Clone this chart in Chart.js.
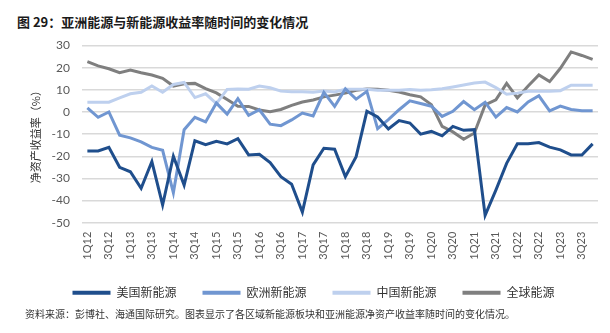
<!DOCTYPE html>
<html>
<head>
<meta charset="utf-8">
<script src="https://cdn.jsdelivr.net/npm/chart.js@4.4.0/dist/chart.umd.min.js"></script>
<style>
  body { margin: 0; width: 610px; height: 333px; background: #fff; position: relative; overflow: hidden; }
  #title { position: absolute; left: 17px; top: 12px; font: bold 13px/19px "Noto Sans CJK SC", sans-serif; color: #1a1a1a; }
  #source { position: absolute; left: 25px; top: 307px; font: 10px/14px "Noto Sans CJK SC", sans-serif; color: #333; }
  #chart { position: absolute; left: 0; top: 0; }
</style>
</head>
<body>
<div id="title">图 29：亚洲能源与新能源收益率随时间的变化情况</div>
<canvas id="chart" width="610" height="333"></canvas>
<div id="source">资料来源：彭博社、海通国际研究。图表显示了各区域新能源板块和亚洲能源净资产收益率随时间的变化情况。</div>
<script>
// quarters 1Q12 .. 4Q23
const quarters = [];
for (let y = 12; y <= 23; y++) {
    for (let q = 1; q <= 4; q++) quarters.push(q + 'Q' + y);
}

const usNewEnergy = [
    -17.6, -17.6, -16, -25, -27, -34.5, -22.4, -42, -20, -33, -13, -14.8,
    -13.3, -14.4, -12.1, -19.4, -19.1, -22.9, -29.2, -32.6, -45.2, -23.9, -16.4, -16.8,
    -29.2, -20.2, 0.3, -2.3, -7.7, -3.9, -5, -10, -8.8, -10.8, -6.5, -8.3,
    -8, -46.7, -35.3, -23.2, -14.4, -14.4, -13.8, -15.9, -17.1, -19.4, -19.4, -14.4
];
const euNewEnergy = [
    1.8, -2.4, 0, -10.5, -11.7, -13.5, -16, -17.3, -36.5, -8, -2.4, -4.5,
    4, -1, 6, -1.5, 1, -5.5, -6.2, -3.6, -0.5, -1.8, 8.8, 2.5,
    10.4, 5.8, 9.3, -7.5, -3.5, 1, 5, 3.8, 2.6, -2, 0.3, 4.7,
    1, 4.4, -2.3, 2, 0, 4.5, 7.3, 0.5, 2.6, 1.1, 0.5, 0.5
];
const cnNewEnergy = [
    4.4, 4.4, 4.4, 6.4, 8.2, 8.9, 11.7, 8.9, 12.4, 13.3, 6.5, 8.2,
    3.8, 10.2, 10.4, 10.3, 11.7, 10.9, 9.4, 9.1, 9.1, 8.9, 9.4, 9,
    10.2, 10.3, 10.3, 9.8, 9.8, 9.8, 10.1, 9.8, 10, 10.5, 11.3, 12.2,
    13.1, 13.5, 11, 8, 8.5, 9.3, 9.3, 9.3, 9.6, 12.1, 12.1, 12.1
];
const globalEnergy = [
    22.7, 20.8, 19.5, 17.7, 18.9, 17.7, 16.7, 15.2, 11.7, 12.7, 12.9, 10.5,
    8.6, 5.6, 2.6, 2.5, 0.9, 0.1, 1.1, 3, 4.5, 5.4, 6.8, 7.6,
    8.5, 9.8, 10.4, 10.3, 9.8, 9, 7.8, 6.8, 3.3, -6.5, -9, -12.3,
    -9.5, 3.2, 5.5, 12.9, 6.3, 11.7, 16.7, 13.7, 19.7, 27.1, 25.5, 23.7
];

const seriesNames = ['美国新能源', '欧洲新能源', '中国新能源', '全球能源'];
const seriesColors = ['#1f4e8c', '#7096d1', '#bed0ee', '#7f7f7f'];
const seriesData = [usNewEnergy, euNewEnergy, cnNewEnergy, globalEnergy];

const latin = 'Lato, "Noto Sans", sans-serif';
const cjk = '"Noto Sans CJK SC", sans-serif';

const datasets = seriesNames.map((name, i) => ({
    label: name,
    data: seriesData[i],
    borderColor: seriesColors[i],
    backgroundColor: seriesColors[i],
    borderWidth: 3,
    pointRadius: 0,
    tension: 0,
    fill: false
}));

new Chart(document.getElementById('chart'), {
    type: 'line',
    data: { labels: quarters, datasets: datasets },
    options: {
        responsive: false,
        animation: false,
        layout: { padding: { top: 45.5, right: 12, left: 29, bottom: 24.3 } },
        plugins: {
            tooltip: { enabled: false },
            legend: {
                position: 'bottom',
                labels: {
                    usePointStyle: true,
                    pointStyle: 'line',
                    pointStyleWidth: 38,
                    boxHeight: 4,
                    padding: 26,
                    color: '#333',
                    font: { family: cjk, size: 12 },
                    generateLabels: (c) => c.data.datasets.map((ds, i) => ({
                        text: ds.label,
                        fillStyle: ds.borderColor,
                        strokeStyle: ds.borderColor,
                        lineWidth: 4,
                        pointStyle: 'line',
                        datasetIndex: i,
                        fontColor: '#333'
                    }))
                }
            }
        },
        scales: {
            x: {
                offset: true,
                grid: { display: false, drawTicks: false },
                border: { display: false },
                afterFit: (s) => {
                    s.height = 38;
                    s.paddingLeft = 0;
                    s.paddingRight = 0;
                },
                ticks: {
                    autoSkip: false,
                    maxRotation: 90,
                    minRotation: 90,
                    padding: 9,
                    color: '#595959',
                    font: { family: latin, size: 11 },
                    callback: (v, i) => (i % 2 === 0 ? quarters[i] : '')
                }
            },
            y: {
                min: -50,
                max: 30,
                afterFit: (s) => { s.width = 53; },
                grid: { color: '#d9d9d9', lineWidth: 1.5, drawTicks: false },
                border: { display: false },
                ticks: {
                    stepSize: 10,
                    padding: 12,
                    color: '#595959',
                    font: { family: latin, size: 12 }
                },
                title: {
                    display: true,
                    text: '净资产收益率（%）',
                    color: '#333',
                    font: { family: cjk, size: 11 },
                    padding: { top: 0, bottom: 0 }
                }
            }
        }
    }
});
</script>
</body>
</html>
